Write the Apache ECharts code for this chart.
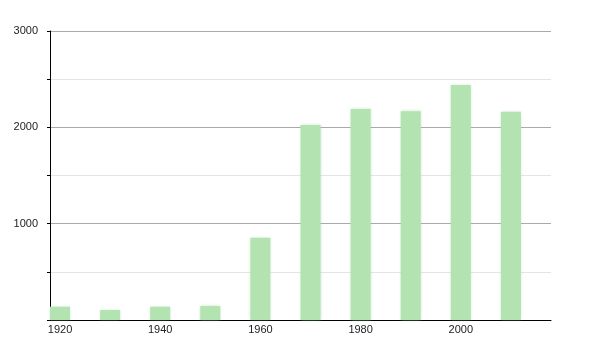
<!DOCTYPE html>
<html><head><meta charset="utf-8">
<script src="https://cdn.jsdelivr.net/npm/echarts@6/dist/echarts.min.js"></script>
<style>html,body{margin:0;padding:0;background:#fff}#c{width:600px;height:350px}</style>
</head><body><div id="c"></div>
<script>
const years = [1920, 1930, 1940, 1950, 1960, 1970, 1980, 1990, 2000, 2010];
const population = [138, 104, 138, 145, 854, 2024, 2190, 2167, 2440, 2162];
const yTickLabels = [1000, 2000, 3000];
const xTickLabels = [1920, 1940, 1960, 1980, 2000];

const chart = echarts.init(document.getElementById('c'));
chart.setOption({
  animation: false,
  backgroundColor: '#fff',
  grid: { left: 50, right: 49, top: 31, bottom: 30, containLabel: false },
  xAxis: {
    type: 'value', min: 1918, max: 2018, interval: 2,
    axisLine: { show: true, onZero: false, lineStyle: { color: '#000', width: 1 } },
    axisTick: { show: false },
    splitLine: { show: false },
    axisLabel: {
      margin: 4, fontSize: 11, color: '#222', fontFamily: 'Liberation Sans, Arial, sans-serif',
      showMinLabel: false, showMaxLabel: false,
      formatter: v => xTickLabels.indexOf(v) >= 0 ? String(v) : ''
    }
  },
  yAxis: {
    type: 'value', min: 0, max: 3000, interval: 500,
    axisLine: { show: true, lineStyle: { color: '#000', width: 1 } },
    axisTick: { show: true, length: 3, lineStyle: { color: '#000' } },
    splitLine: { show: true, lineStyle: { color: ['#aaaaaa', '#e4e4e4'], width: 1 } },
    axisLabel: {
      margin: 12, fontSize: 11, color: '#222', fontFamily: 'Liberation Sans, Arial, sans-serif',
      formatter: v => yTickLabels.indexOf(v) >= 0 ? String(v) : ''
    }
  },
  series: [{
    type: 'bar',
    barWidth: 20,
    data: years.map((y, i) => [y, population[i]]),
    itemStyle: { color: '#b3e3b0', shadowBlur: 3, shadowColor: 'rgba(160,210,160,0.6)' }
  }]
});
</script>
</body></html>
